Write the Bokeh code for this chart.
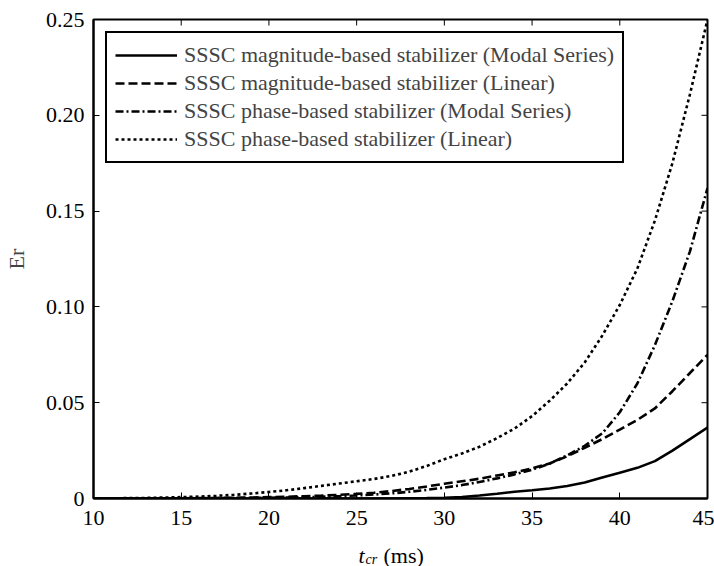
import math
from bokeh.plotting import figure
from bokeh.layouts import column
from bokeh.models import (ColumnDataSource, Range1d, LinearAxis, FixedTicker,
                          Legend, LegendItem)
from bokeh.core.properties import value
from bokeh.embed import file_html
from bokeh.resources import INLINE

# clearing time t_cr (ms)
t_cr = [10, 11, 12, 13, 14, 15, 16, 17, 18, 19,
        20, 21, 22, 23, 24, 25, 26, 27, 28, 29,
        30, 31, 32, 33, 34, 35, 36, 37, 38, 39,
        40, 41, 42, 43, 44, 45]

# Er for each stabilizer / model
mag_modal = [0, 0, 0, 0, 0, 0, 0, 0, 0, 0,
             0, 0, 0, 0, 0, 0, 0, 0, 0.0001, 0.0002,
             0.0004, 0.0008, 0.0016, 0.0025, 0.0035, 0.0043, 0.0052, 0.0065, 0.0083, 0.011,
             0.0135, 0.016, 0.0195, 0.025, 0.031, 0.037]
mag_linear = [0, 0, 0, 0, 0.0001, 0.0001, 0.0002, 0.0003, 0.0004, 0.0005,
              0.0007, 0.0009, 0.0012, 0.0015, 0.0019, 0.0024, 0.003, 0.0039, 0.005, 0.0063,
              0.0077, 0.009, 0.0103, 0.012, 0.0137, 0.0157, 0.0183, 0.022, 0.0265, 0.031,
              0.036, 0.041, 0.047, 0.056, 0.0655, 0.075]
phase_modal = [0, 0, 0, 0, 0, 0, 0.0001, 0.0001, 0.0002, 0.0003,
               0.0004, 0.0005, 0.0007, 0.0009, 0.0012, 0.0016, 0.0021, 0.0027, 0.0035, 0.0045,
               0.0057, 0.007, 0.0086, 0.0105, 0.0126, 0.015, 0.0182, 0.0225, 0.0275, 0.034,
               0.045, 0.060, 0.080, 0.103, 0.129, 0.162]
phase_linear = [0, 0.0001, 0.0002, 0.0003, 0.0005, 0.0007, 0.001, 0.0014, 0.0019, 0.0026,
                0.0034, 0.0043, 0.0054, 0.0066, 0.0078, 0.009, 0.0102, 0.0118, 0.014, 0.017,
                0.0205, 0.0235, 0.027, 0.0315, 0.0365, 0.043, 0.051, 0.06, 0.071, 0.085,
                0.101, 0.12, 0.145, 0.175, 0.211, 0.25]

series_labels = [
    "SSSC magnitude-based stabilizer (Modal Series)",
    "SSSC magnitude-based stabilizer (Linear)",
    "SSSC phase-based stabilizer (Modal Series)",
    "SSSC phase-based stabilizer (Linear)",
]
x_ticks = [10, 15, 20, 25, 30, 35, 40, 45]
y_ticks = [0, 0.05, 0.10, 0.15, 0.20, 0.25]
y_tick_labels = {0: "0", 0.05: "0.05", 0.1: "0.10", 0.15: "0.15", 0.2: "0.20", 0.25: "0.25"}
x_min, x_max = 10, 45
y_min, y_max = 0, 0.25

FONT = "Liberation Serif"
FS = "22px"
W = 714
LEFT, RIGHT = 93, 7

src = ColumnDataSource(dict(t=t_cr, a=mag_modal, b=mag_linear, c=phase_modal, d=phase_linear))

p = figure(width=W, height=540, output_backend="svg", toolbar_location=None,
           x_range=Range1d(x_min, x_max), y_range=Range1d(y_min, y_max),
           min_border_left=LEFT, min_border_right=RIGHT, min_border_top=19,
           min_border_bottom=42, x_axis_location=None, y_axis_location=None)
p.grid.visible = False
p.outline_line_color = "black"
p.outline_line_width = 2
p.outline_line_alpha = 1.0
p.background_fill_color = "white"
p.border_fill_color = "white"


def make_axis(ticks, overrides=None):
    ax = LinearAxis(ticker=FixedTicker(ticks=ticks))
    ax.axis_line_width = 2
    ax.axis_line_color = "black"
    ax.major_tick_in = 6
    ax.major_tick_out = 0
    ax.major_tick_line_width = 1
    ax.minor_tick_line_color = None
    ax.major_label_text_font = FONT
    ax.major_label_text_color = "black"
    ax.major_label_text_font_size = FS
    if overrides:
        ax.major_label_overrides = overrides
    return ax


left = make_axis(y_ticks, overrides=y_tick_labels)
left.major_label_standoff = 9
left.axis_label = "Er"
left.axis_label_text_font = FONT
left.axis_label_text_font_size = FS
left.axis_label_text_font_style = "normal"
left.axis_label_standoff = 14
p.add_layout(left, "left")

bottom = make_axis(x_ticks)
bottom.major_label_standoff = 12
p.add_layout(bottom, "below")

# inward tick marks on the top and right edges of the box
p.scatter(x=[x_max] * len(y_ticks), y=y_ticks, marker="dash", size=12,
          line_color="black", line_width=1)
p.scatter(x=x_ticks, y=[y_max] * len(x_ticks), marker="dash", size=12, angle=math.pi / 2,
          line_color="black", line_width=1)

lw = 2.6
r1 = p.line("t", "a", source=src, line_color="black", line_width=lw)
r2 = p.line("t", "b", source=src, line_color="black", line_width=lw, line_dash="9 4")
r3 = p.line("t", "c", source=src, line_color="black", line_width=lw, line_dash="8 3 2 3")
r4 = p.line("t", "d", source=src, line_color="black", line_width=lw, line_dash="3 3")

legend = Legend(items=[LegendItem(label=lab, renderers=[r]) for lab, r in
                       zip(series_labels, [r1, r2, r3, r4])],
                location="top_left", margin=12, padding=8, spacing=0,
                glyph_width=62, glyph_height=28, label_height=28, label_standoff=7,
                label_text_font=FONT, label_text_font_size=FS,
                border_line_color="black", border_line_width=2, border_line_alpha=1.0,
                background_fill_alpha=1.0)
p.add_layout(legend)

# strip under the plot holding the x-axis title: italic t, subscript cr, then (ms)
H2 = 26
cap = figure(width=W, height=H2, output_backend="svg", toolbar_location=None,
             x_range=p.x_range, y_range=Range1d(0, H2),
             min_border_left=LEFT, min_border_right=RIGHT, min_border_top=0,
             min_border_bottom=0, x_axis_location=None, y_axis_location=None)
cap.grid.visible = False
cap.outline_line_color = None
cap.background_fill_color = "white"
cap.border_fill_color = "white"


def px_to_t(px):
    # horizontal pixel in the page -> t_cr value on the shared x range
    return x_min + (px - LEFT) * (x_max - x_min) / (W - LEFT - RIGHT)


cap.text(x=[px_to_t(358)], y=[11], text=["t"], text_font=value(FONT), text_font_size=FS,
         text_font_style="italic", text_baseline="alphabetic", text_color="black")
cap.text(x=[px_to_t(365)], y=[7], text=["cr"], text_font=value(FONT), text_font_size="14px",
         text_font_style="italic", text_baseline="alphabetic", text_color="black")
cap.text(x=[px_to_t(383)], y=[11], text=["(ms)"], text_font=value(FONT), text_font_size=FS,
         text_baseline="alphabetic", text_color="black")

layout = column(p, cap, spacing=0)
open("out.html", "w").write(file_html(layout, INLINE))
